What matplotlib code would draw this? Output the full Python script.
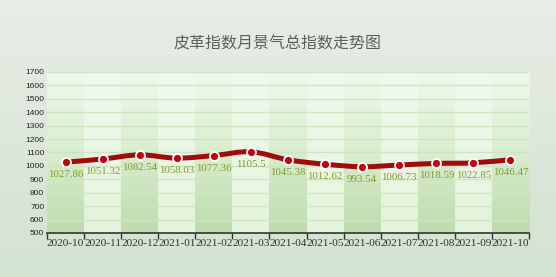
import numpy as np
import matplotlib
matplotlib.use("Agg")
import matplotlib.pyplot as plt
from matplotlib.path import Path
from matplotlib.patches import PathPatch
from matplotlib.colors import LinearSegmentedColormap

plt.rcParams['font.family'] = ['Noto Sans CJK SC', 'DejaVu Sans']

title = "皮革指数月景气总指数走势图"
months = ["2020-10", "2020-11", "2020-12", "2021-01", "2021-02", "2021-03", "2021-04",
          "2021-05", "2021-06", "2021-07", "2021-08", "2021-09", "2021-10"]
values = [1027.86, 1051.32, 1082.54, 1058.03, 1077.36, 1105.5, 1045.38,
          1012.62, 993.54, 1006.73, 1018.59, 1022.85, 1046.47]
labels = ["1027.86", "1051.32", "1082.54", "1058.03", "1077.36", "1105.5", "1045.38",
          "1012.62", "993.54", "1006.73", "1018.59", "1022.85", "1046.47"]
yticks = list(range(500, 1800, 100))

W, H = 556, 277
fig = plt.figure(figsize=(W / 100, H / 100), dpi=100)

# figure background gradient
bg = fig.add_axes([0, 0, 1, 1])
bg_cmap = LinearSegmentedColormap.from_list("bg", ["#e8ede6", "#d3e3d1"])
bg.imshow(np.linspace(0, 1, 100).reshape(-1, 1), aspect="auto", cmap=bg_cmap,
          extent=[0, 1, 0, 1])
bg.set_axis_off()
fig.text(0.5, 1 - 44 / H, title, ha="center", va="center", fontsize=11.5,
         fontweight="light", color="#5e5e5e")

# plot area: x 47..529, y 72..233 (pixels)
x0, x1, yt, yb = 47, 529, 72, 233
ax = fig.add_axes([x0 / W, 1 - yb / H, (x1 - x0) / W, (yb - yt) / H])
ax.set_facecolor("#eef8ea")

dark_cmap = LinearSegmentedColormap.from_list("dk", ["#bedcae", "#d8edcd", "#f0f9ec"])
light_cmap = LinearSegmentedColormap.from_list("lt", ["#e4f3dc", "#f1faee"])
grad = np.linspace(0, 1, 100).reshape(-1, 1)
for i in range(len(months)):
    cm = dark_cmap if i % 2 == 0 else light_cmap
    ax.imshow(grad, aspect="auto", cmap=cm, origin="lower",
              extent=[i - 0.5, i + 0.5, 500, 1700], zorder=0)
ax.set_xlim(-0.5, len(months) - 0.5)
ax.set_ylim(500, 1700)

for y in yticks[1:]:
    ax.axhline(y, color="#cde5c2", lw=1.0, zorder=1)

# smooth line through points (Catmull-Rom as cubic Bezier)
xs = np.arange(len(values), dtype=float)
ys = np.array(values)
verts = [(xs[0], ys[0])]
codes = [Path.MOVETO]
for i in range(len(xs) - 1):
    p0 = (xs[max(i - 1, 0)], ys[max(i - 1, 0)])
    p1 = (xs[i], ys[i])
    p2 = (xs[i + 1], ys[i + 1])
    p3 = (xs[min(i + 2, len(xs) - 1)], ys[min(i + 2, len(xs) - 1)])
    c1 = (p1[0] + (p2[0] - p0[0]) / 6, p1[1] + (p2[1] - p0[1]) / 6)
    c2 = (p2[0] - (p3[0] - p1[0]) / 6, p2[1] - (p3[1] - p1[1]) / 6)
    verts += [c1, c2, p2]
    codes += [Path.CURVE4] * 3
ax.add_patch(PathPatch(Path(verts, codes), fill=False, edgecolor="#a20b0b", lw=3.6,
                       capstyle="round", joinstyle="round", zorder=3))
ax.plot(xs, ys, "o", ms=6.5, mfc="#c40010", mec="white", mew=1.3, zorder=4)

for x, v, lab in zip(xs, values, labels):
    ax.annotate(lab, (x, v), xytext=(0, -9), textcoords="offset points",
                ha="center", va="center", fontsize=7.8, color="#7f9a2a",
                family="Liberation Serif", zorder=5)

ax.set_yticks(yticks)
ax.set_yticklabels([str(t) for t in yticks], fontsize=6, color="#222222",
                   family="Liberation Sans")
ax.tick_params(axis="y", length=0, pad=2)

ax.set_xticks(xs)
ax.set_xticklabels(months, fontsize=8.2, color="#333333", family="Liberation Serif")
ax.set_xticks(np.arange(-0.5, len(months)), minor=True)
ax.tick_params(axis="x", which="major", length=0, pad=4)
ax.tick_params(axis="x", which="minor", length=4, width=1, color="#333333", direction="out")

for s in ["top", "right", "left"]:
    ax.spines[s].set_visible(False)
ax.spines["bottom"].set_color("#333333")
ax.spines["bottom"].set_linewidth(1.2)

fig.savefig("out.png", dpi=100)
